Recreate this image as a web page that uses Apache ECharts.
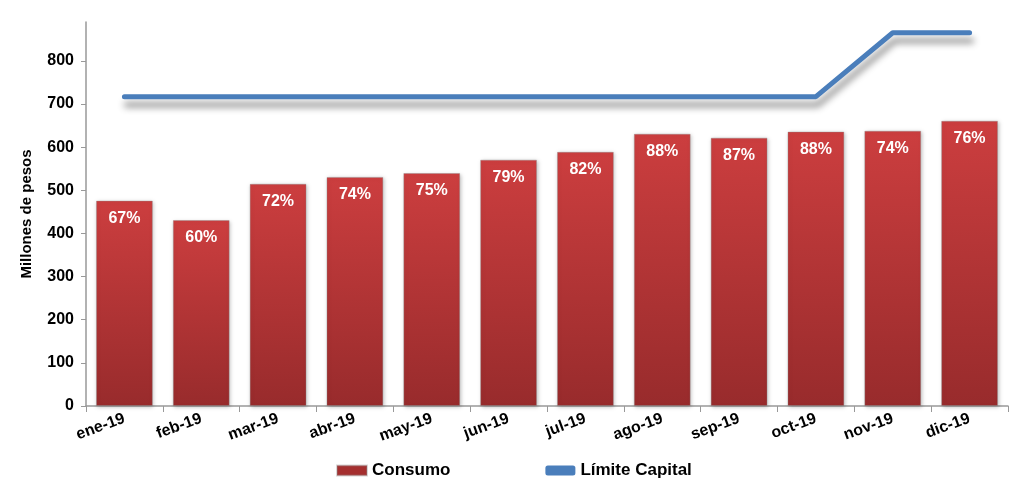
<!DOCTYPE html>
<html>
<head>
<meta charset="utf-8">
<script src="https://cdn.jsdelivr.net/npm/echarts@6/dist/echarts.min.js"></script>
<style>
  html, body { margin: 0; padding: 0; background: #fff; }
  #chart { width: 1024px; height: 496px; }
</style>
</head>
<body>
<div id="chart"></div>
<script>
const months = ["ene-19", "feb-19", "mar-19", "abr-19", "may-19", "jun-19",
  "jul-19", "ago-19", "sep-19", "oct-19", "nov-19", "dic-19"];
const consumo = [476, 431, 515, 531, 540, 571, 589, 631, 622, 636, 638, 661];
const limite = [717, 717, 717, 717, 717, 717, 717, 717, 717, 717, 865, 865];
const pct = ["67%", "60%", "72%", "74%", "75%", "79%", "82%", "88%", "87%", "88%", "74%", "76%"];

const myChart = echarts.init(document.getElementById("chart"));
myChart.setOption({
  animation: false,
  textStyle: { fontFamily: "Liberation Sans, Arial, sans-serif" },
  grid: { left: 86, right: 16, top: 22, bottom: 90 },
  legend: {
    bottom: 12,
    left: 331,
    itemGap: 95,
    itemWidth: 30,
    itemHeight: 10,
    textStyle: { fontSize: 17, fontWeight: "bold", color: "#000" },
    data: [
      { name: "Consumo", icon: "rect", itemStyle: { color: "#a52f2f" } },
      { name: "Límite Capital", icon: "roundRect" }
    ]
  },
  xAxis: {
    type: "category",
    data: months,
    axisLine: { lineStyle: { color: "#999", width: 1.5 } },
    axisTick: { show: true, length: 6, lineStyle: { color: "#999" } },
    axisLabel: {
      rotate: 20,
      color: "#000",
      fontWeight: "bold",
      fontSize: 16,
      margin: 12
    }
  },
  yAxis: {
    type: "value",
    min: 0,
    max: 890,
    interval: 100,
    name: "Millones de pesos",
    nameLocation: "middle",
    nameGap: 52,
    nameTextStyle: { fontWeight: "bold", fontSize: 15, color: "#000" },
    splitLine: { show: false },
    axisLine: { show: true, lineStyle: { color: "#999", width: 1.5 } },
    axisTick: { show: true, length: 5, lineStyle: { color: "#999" } },
    axisLabel: {
      color: "#000",
      fontWeight: "bold",
      fontSize: 16,
      margin: 12,
      showMaxLabel: false
    }
  },
  series: [
    {
      name: "Consumo",
      type: "bar",
      data: consumo.map((v, i) => ({ value: v, label: { formatter: pct[i] } })),
      barCategoryGap: "26%",
      itemStyle: {
        color: new echarts.graphic.LinearGradient(0, 0, 0, 1, [
          { offset: 0, color: "#cc3e3f" },
          { offset: 1, color: "#982b2c" }
        ]),
        borderColor: "rgba(140,140,140,0.35)",
        borderWidth: 1,
        shadowColor: "rgba(0,0,0,0.25)",
        shadowBlur: 4,
        shadowOffsetX: 1,
        shadowOffsetY: 1
      },
      label: {
        show: true,
        position: "insideTop",
        distance: 10,
        color: "#fff",
        fontWeight: "bold",
        fontSize: 16
      }
    },
    {
      name: "Límite Capital",
      type: "line",
      data: limite,
      symbol: "none",
      color: "#4a7ebb",
      lineStyle: {
        color: "#4a7ebb",
        width: 5,
        cap: "round",
        shadowColor: "rgba(0,0,0,0.45)",
        shadowBlur: 7,
        shadowOffsetX: 2,
        shadowOffsetY: 8
      }
    }
  ]
});
</script>
</body>
</html>
